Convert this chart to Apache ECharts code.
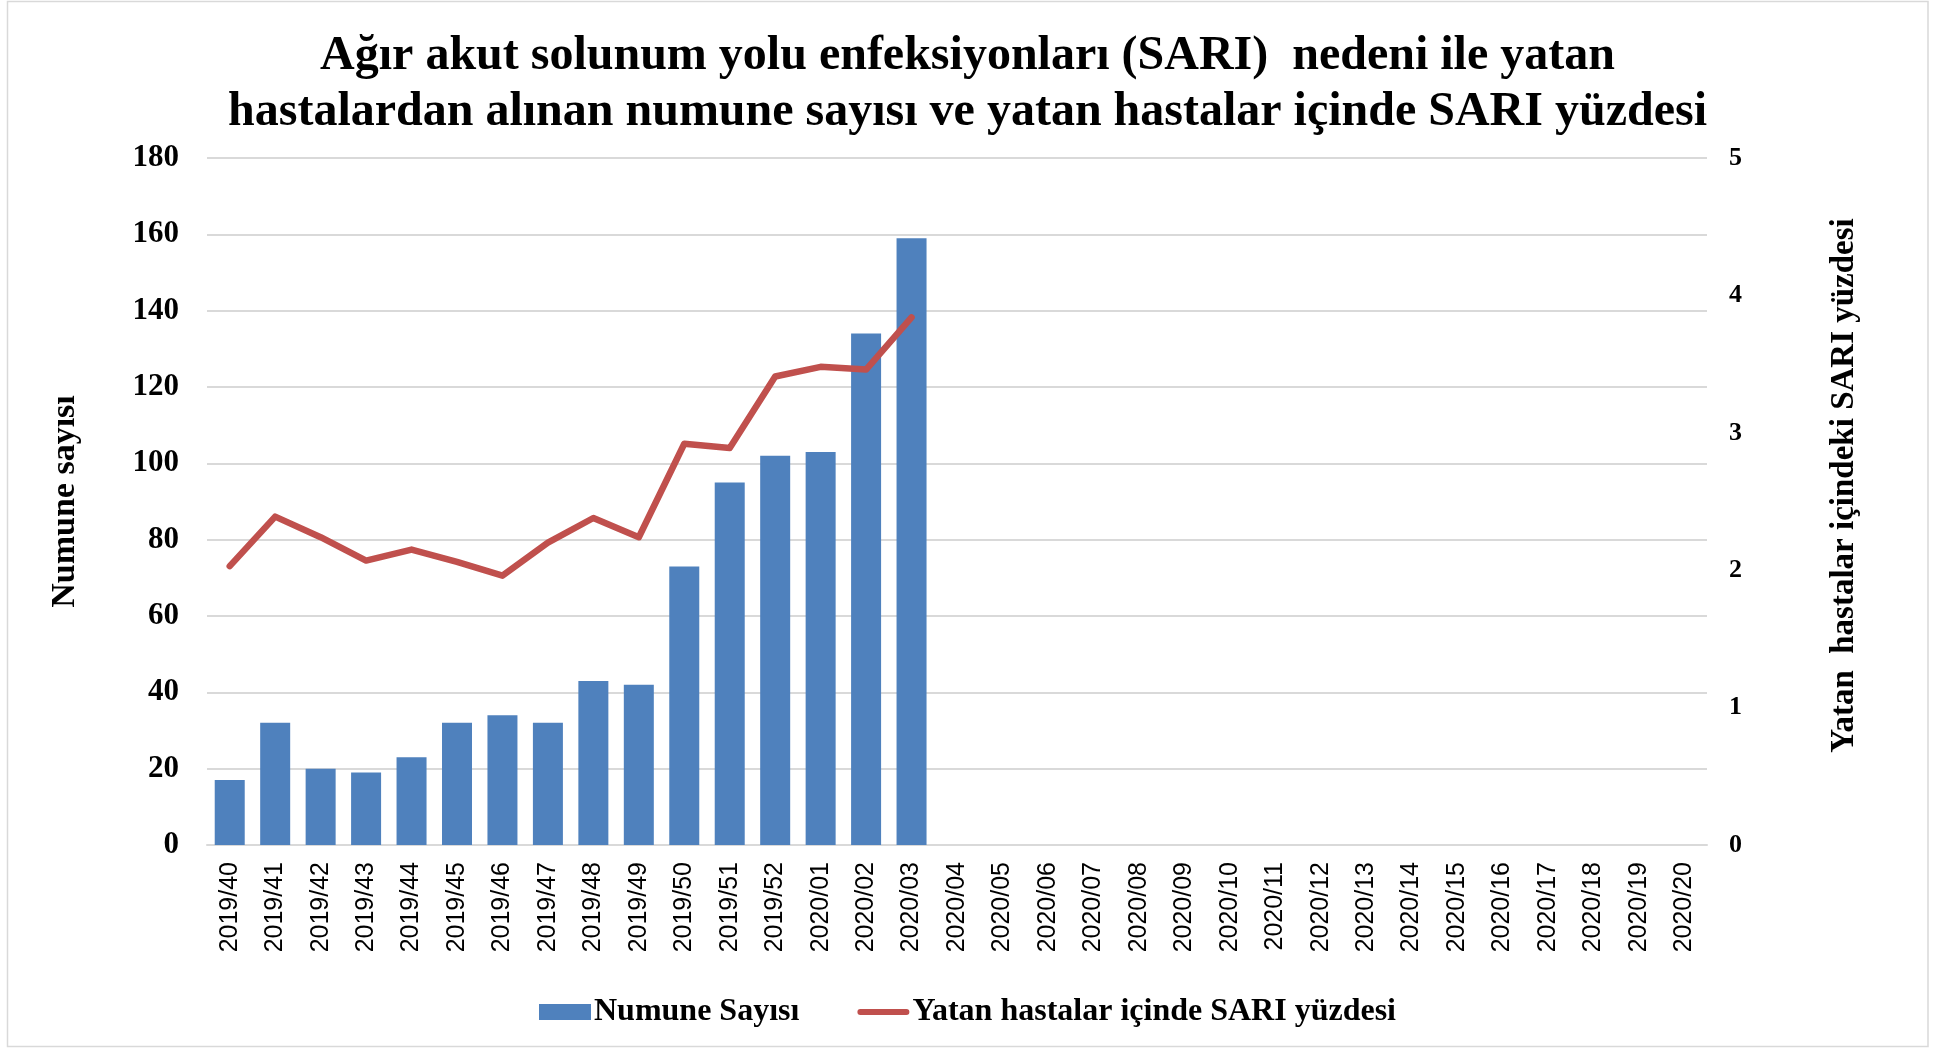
<!DOCTYPE html>
<html>
<head>
<meta charset="utf-8">
<script src="https://cdn.jsdelivr.net/npm/echarts@6/dist/echarts.min.js"></script>
<style>
  html, body { margin: 0; padding: 0; background: #ffffff; }
  #chart { width: 1935px; height: 1049px; }
</style>
</head>
<body>
<div id="chart"></div>
<script>
// Haftalık kategoriler (2019/40 – 2020/20)
const weeks = [
  '2019/40','2019/41','2019/42','2019/43','2019/44','2019/45','2019/46','2019/47',
  '2019/48','2019/49','2019/50','2019/51','2019/52','2020/01','2020/02','2020/03',
  '2020/04','2020/05','2020/06','2020/07','2020/08','2020/09','2020/10','2020/11',
  '2020/12','2020/13','2020/14','2020/15','2020/16','2020/17','2020/18','2020/19','2020/20'
];

// Alınan numune sayısı
const sampleCounts = [17, 32, 20, 19, 23, 32, 34, 32, 43, 42, 73, 95, 102, 103, 134, 159];

// Yatan hastalar içinde SARI yüzdesi
const sariPercent = [2.03, 2.39, 2.24, 2.07, 2.15, 2.06, 1.96, 2.20, 2.38, 2.24, 2.92, 2.89, 3.41, 3.48, 3.46, 3.84];

const titleLines = [
  'Ağır akut solunum yolu enfeksiyonları (SARI)  nedeni ile yatan',
  'hastalardan alınan numune sayısı ve yatan hastalar içinde SARI yüzdesi'
];
const seriesNames = ['Numune Sayısı', 'Yatan hastalar içinde SARI yüzdesi'];
const leftAxisName = 'Numune sayısı';
const rightAxisName = 'Yatan  hastalar içindeki SARI yüzdesi';

const serif = '"Liberation Serif", "Times New Roman", serif';
const sans = '"Liberation Sans", Arial, sans-serif';

const chart = echarts.init(document.getElementById('chart'), null, { renderer: 'canvas' });

chart.setOption({
  backgroundColor: '#ffffff',
  animation: false,
  graphic: [{
    type: 'rect',
    shape: { x: 7.5, y: 1.5, width: 1920.5, height: 1045 },
    style: { fill: 'none', stroke: '#d9d9d9', lineWidth: 1.5 },
    silent: true
  }],
  title: {
    text: titleLines.join('\n'),
    left: 'center',
    top: 24,
    textStyle: {
      fontFamily: serif,
      fontWeight: 'bold',
      fontSize: 48,
      lineHeight: 56,
      color: '#000000'
    }
  },
  legend: {
    data: [
      { name: seriesNames[0], icon: 'rect' },
      { name: seriesNames[1], icon: 'path://M3,0 L49,0 A3,3 0 0 1 49,6 L3,6 A3,3 0 0 1 3,0 Z' }
    ],
    left: 'center',
    top: 991,
    itemWidth: 52,
    itemHeight: 16,
    itemGap: 58,
    textStyle: {
      fontFamily: serif,
      fontWeight: 'bold',
      fontSize: 32,
      color: '#000000',
      padding: [0, 0, 0, -2]
    }
  },
  grid: {
    left: 207,
    right: 228,
    top: 158,
    bottom: 204,
    containLabel: false
  },
  xAxis: {
    type: 'category',
    data: weeks,
    axisLine: { lineStyle: { color: '#d9d9d9', width: 2 } },
    axisTick: { show: false },
    axisLabel: {
      interval: 0,
      rotate: 90,
      margin: 17,
      fontFamily: sans,
      fontSize: 25,
      color: '#000000'
    }
  },
  yAxis: [
    {
      type: 'value',
      min: 0,
      max: 180,
      interval: 20,
      name: leftAxisName,
      nameLocation: 'middle',
      nameRotate: 90,
      nameGap: 125,
      nameTextStyle: {
        fontFamily: serif,
        fontWeight: 'bold',
        fontSize: 34,
        color: '#000000'
      },
      axisLine: { show: false },
      axisTick: { show: false },
      axisLabel: {
        margin: 28,
        fontFamily: serif,
        fontWeight: 'bold',
        fontSize: 31,
        color: '#000000'
      },
      splitLine: { lineStyle: { color: '#d9d9d9', width: 2 } }
    },
    {
      type: 'value',
      min: 0,
      max: 5,
      interval: 1,
      position: 'right',
      name: rightAxisName,
      nameLocation: 'middle',
      nameRotate: 90,
      nameGap: 121,
      nameTextStyle: {
        fontFamily: serif,
        fontWeight: 'bold',
        fontSize: 33,
        color: '#000000',
        padding: [0, 0, 0, 32]
      },
      axisLine: { show: false },
      axisTick: { show: false },
      axisLabel: {
        margin: 22,
        fontFamily: serif,
        fontWeight: 'bold',
        fontSize: 26,
        color: '#000000'
      },
      splitLine: { show: false }
    }
  ],
  series: [
    {
      name: seriesNames[0],
      type: 'bar',
      yAxisIndex: 0,
      data: sampleCounts,
      barWidth: '66%',
      itemStyle: { color: '#4f81bd' }
    },
    {
      name: seriesNames[1],
      type: 'line',
      yAxisIndex: 1,
      data: sariPercent,
      symbol: 'none',
      lineStyle: { color: '#c0504d', width: 6.5, cap: 'round', join: 'round' },
      itemStyle: { color: '#c0504d' },
      z: 3
    }
  ]
});
</script>
</body>
</html>
